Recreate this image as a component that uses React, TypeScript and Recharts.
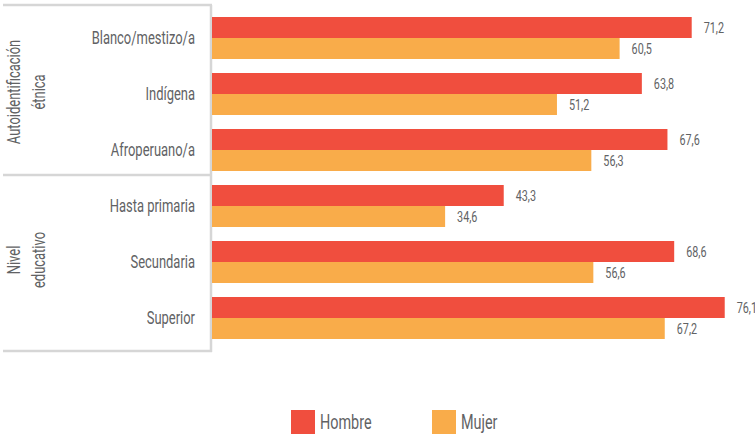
import { BarChart, Bar, XAxis, YAxis, LabelList } from 'recharts'

const categories = [
  'Blanco/mestizo/a',
  'Indígena',
  'Afroperuano/a',
  'Hasta primaria',
  'Secundaria',
  'Superior',
]
const hombre = [71.2, 63.8, 67.6, 43.3, 68.6, 76.1]
const mujer = [60.5, 51.2, 56.3, 34.6, 56.6, 67.2]
const seriesNames = ['Hombre', 'Mujer']
const groupLabels = [
  ['Autoidentificación', 'étnica'],
  ['Nivel', 'educativo'],
]

const COLORS = ['#F04E3E', '#F9AC4A']
const FONT = 'Roboto, sans-serif'
const TEXT = '#616264'
const LINE = '#d6d6d6'
// the source uses a condensed face; squeeze Roboto horizontally
const SQUEEZE = 0.72

const data = categories.map((name, i) => ({
  name,
  hombre: hombre[i],
  mujer: mujer[i],
}))

const fmt = (v: any) => Number(v).toFixed(1).replace('.', ',')

function CategoryTick(props: any) {
  const { x, y, payload } = props
  return (
    <text
      transform={`translate(${x}, ${y}) scale(${SQUEEZE}, 1)`}
      textAnchor="end"
      dy="0.355em"
      fill={TEXT}
      fontSize={18}
      fontFamily={FONT}
    >
      {payload.value}
    </text>
  )
}

function ValueLabel(props: any) {
  const { x, y, width, height, value } = props
  return (
    <text
      transform={`translate(${x + width + 12}, ${y + height / 2}) scale(${SQUEEZE}, 1)`}
      dy="0.355em"
      fill={TEXT}
      fontSize={15}
      fontFamily={FONT}
    >
      {fmt(value)}
    </text>
  )
}

export default function App() {
  return (
    <div
      style={{
        position: 'absolute',
        left: 0,
        top: 0,
        width: 755,
        height: 437,
        fontFamily: FONT,
        background: '#fff',
      }}
    >
      {/* bracket that groups the category labels */}
      <svg
        width={755}
        height={437}
        style={{ position: 'absolute', left: 0, top: 0 }}
      >
        <g stroke={LINE} strokeWidth={2.5} fill="none">
          <line x1={3} y1={5} x2={212} y2={5} />
          <line x1={3} y1={175} x2={212} y2={175} />
          <line x1={3} y1={351} x2={212} y2={351} />
          <line x1={211} y1={5} x2={211} y2={352} />
        </g>
        {groupLabels.map((lines, gi) => (
          <text
            key={gi}
            transform={`translate(26, ${gi === 0 ? 92 : 260}) rotate(-90) scale(${SQUEEZE}, 1)`}
            textAnchor="middle"
            fill={TEXT}
            fontSize={18}
            fontFamily={FONT}
          >
            {lines.map((l, li) => (
              <tspan key={li} x={0} dy={li === 0 ? '-0.33em' : '1.4em'}>
                {l}
              </tspan>
            ))}
          </text>
        ))}
      </svg>

      <div style={{ position: 'absolute', left: 0, top: 0 }}>
        <BarChart
          width={755}
          height={437}
          data={data}
          layout="vertical"
          margin={{ top: 9.5, right: 4, left: 0, bottom: 91.5 }}
          barCategoryGap={7.5}
          barGap={0}
        >
          <XAxis type="number" domain={[0, 80]} hide />
          <YAxis
            type="category"
            dataKey="name"
            width={212}
            axisLine={false}
            tickLine={false}
            tickSize={0}
            tickMargin={17}
            tick={<CategoryTick />}
          />
          <Bar dataKey="hombre" fill={COLORS[0]} isAnimationActive={false}>
            <LabelList dataKey="hombre" content={<ValueLabel />} />
          </Bar>
          <Bar dataKey="mujer" fill={COLORS[1]} isAnimationActive={false}>
            <LabelList dataKey="mujer" content={<ValueLabel />} />
          </Bar>
        </BarChart>
      </div>

      <div
        style={{
          position: 'absolute',
          top: 410,
          left: 291,
          display: 'flex',
          alignItems: 'center',
        }}
      >
        {seriesNames.map((s, i) => (
          <div
            key={s}
            style={{
              display: 'flex',
              alignItems: 'center',
              width: i === 0 ? 141 : 'auto',
            }}
          >
            <span
              style={{
                width: 24,
                height: 24,
                background: COLORS[i],
                display: 'inline-block',
                marginRight: 5,
              }}
            />
            <span
              style={{
                color: TEXT,
                fontSize: 20,
                lineHeight: '24px',
                display: 'inline-block',
                transform: `scaleX(${SQUEEZE})`,
                transformOrigin: 'left center',
              }}
            >
              {s}
            </span>
          </div>
        ))}
      </div>
    </div>
  )
}
